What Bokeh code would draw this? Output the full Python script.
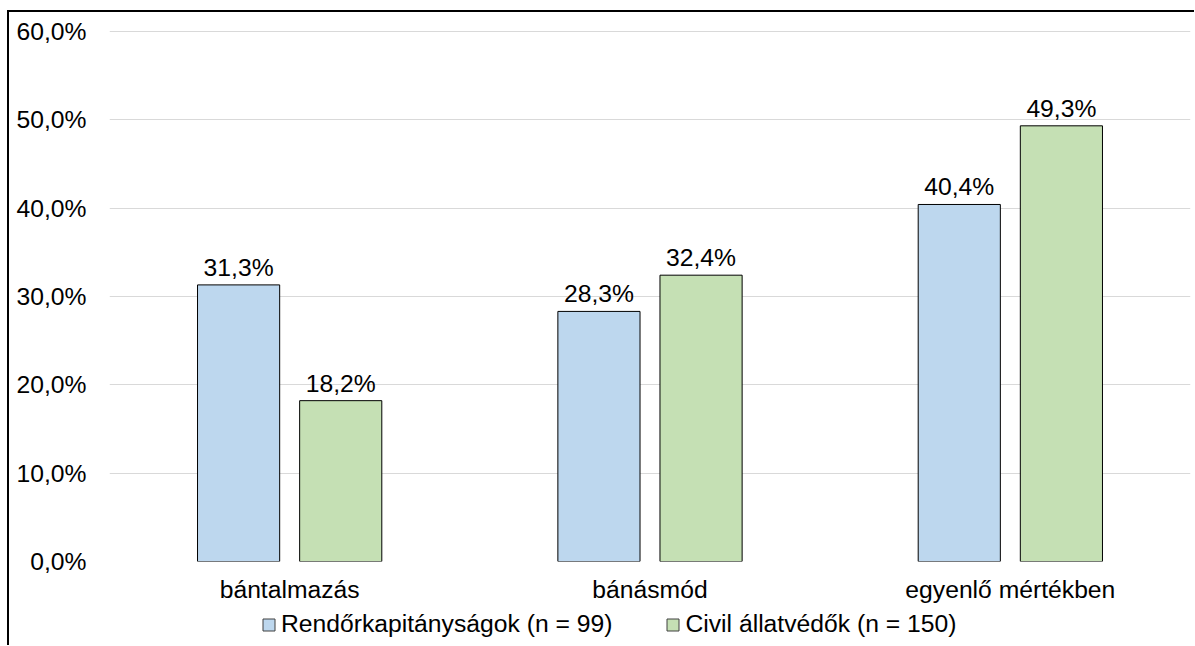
from bokeh.plotting import figure
from bokeh.models import (ColumnDataSource, FactorRange, FixedTicker, CustomJSTickFormatter,
                          Legend, LegendItem, LabelSet, Range1d)
from bokeh.layouts import column
from bokeh.transform import dodge
from bokeh.core.properties import value
from bokeh.embed import file_html
from bokeh.resources import INLINE

categories = ["bántalmazás", "bánásmód", "egyenlő mértékben"]
rendor = [31.3, 28.3, 40.4]
civil = [18.2, 32.4, 49.3]
series_names = ["Rendőrkapitányságok (n = 99)", "Civil állatvédők (n = 150)"]
series_colors = ["#BDD7EE", "#C5E0B4"]
y_ticks = [0, 10, 20, 30, 40, 50, 60]

FONT = "Liberation Sans"
FS = "24.7px"


def fmt(v):
    return f"{v:.1f}".replace(".", ",") + "%"


src_r = ColumnDataSource(dict(cat=categories, val=rendor, lab=[fmt(v) for v in rendor]))
src_c = ColumnDataSource(dict(cat=categories, val=civil, lab=[fmt(v) for v in civil]))

p = figure(x_range=FactorRange(*categories, range_padding=0), y_range=(0, 60.2),
           width=1185, height=595, output_backend="svg", toolbar_location=None,
           min_border_left=100, min_border_right=4, min_border_top=17, min_border_bottom=46)
p.outline_line_color = None
p.background_fill_color = "white"
p.border_fill_color = "white"

p.xgrid.grid_line_color = None
p.ygrid.grid_line_color = "#d9d9d9"
p.ygrid.grid_line_width = 1

p.yaxis.ticker = FixedTicker(ticks=y_ticks)
p.yaxis.formatter = CustomJSTickFormatter(code="return tick.toFixed(1).replace('.', ',') + '%';")
for ax in (p.xaxis, p.yaxis):
    ax.axis_line_color = None
    ax.major_tick_line_color = None
    ax.minor_tick_line_color = None
    ax.major_tick_out = 0
    ax.major_tick_in = 0
    ax.major_label_text_font = FONT
    ax.major_label_text_font_size = FS
    ax.major_label_text_color = "black"
p.yaxis.major_label_standoff = 23
p.xaxis.major_label_standoff = 14

W = 0.228
D = 0.1417
p.vbar(x=dodge("cat", -D, range=p.x_range), top="val", width=W, source=src_r,
       fill_color=series_colors[0], line_color="black", line_width=1)
p.vbar(x=dodge("cat", D, range=p.x_range), top="val", width=W, source=src_c,
       fill_color=series_colors[1], line_color="black", line_width=1)

for src, d in ((src_r, -D), (src_c, D)):
    p.add_layout(LabelSet(x=dodge("cat", d, range=p.x_range), y="val", text="lab", source=src,
                          text_align="center", text_baseline="alphabetic", y_offset=9,
                          text_font=value(FONT), text_font_size=FS, text_color="black"))

# legend strip below the chart (frames are aligned with the main chart by the column)
p2 = figure(width=1185, height=38, output_backend="svg", toolbar_location=None,
            x_range=Range1d(0, 1), y_range=Range1d(0, 1),
            x_axis_location=None, y_axis_location=None, min_border=0)
p2.outline_line_color = None
p2.xgrid.grid_line_color = None
p2.ygrid.grid_line_color = None
p2.border_fill_color = "white"
items = []
for name, col in zip(series_names, series_colors):
    # legend proxy glyph: one NaN point so the legend swatch is drawn but nothing shows in the strip
    rr = p2.vbar(x=[float("nan")], top=[float("nan")], width=0.1,
                 fill_color=col, line_color="#404040", line_width=1)
    items.append(LegendItem(label=name, renderers=[rr]))
legend = Legend(items=items, orientation="horizontal", location=(152, 7),
                glyph_width=15, glyph_height=15, label_standoff=5, spacing=53,
                padding=0, margin=0,
                label_text_font=FONT, label_text_font_size=FS, label_text_color="black",
                border_line_color=None, background_fill_alpha=0)
p2.add_layout(legend, "center")

layout = column(p, p2, spacing=0,
                styles={"margin-left": "7px", "margin-top": "10px",
                        "border-left": "2px solid black", "border-top": "2px solid black"})

open("out.html", "w").write(file_html(layout, INLINE))
